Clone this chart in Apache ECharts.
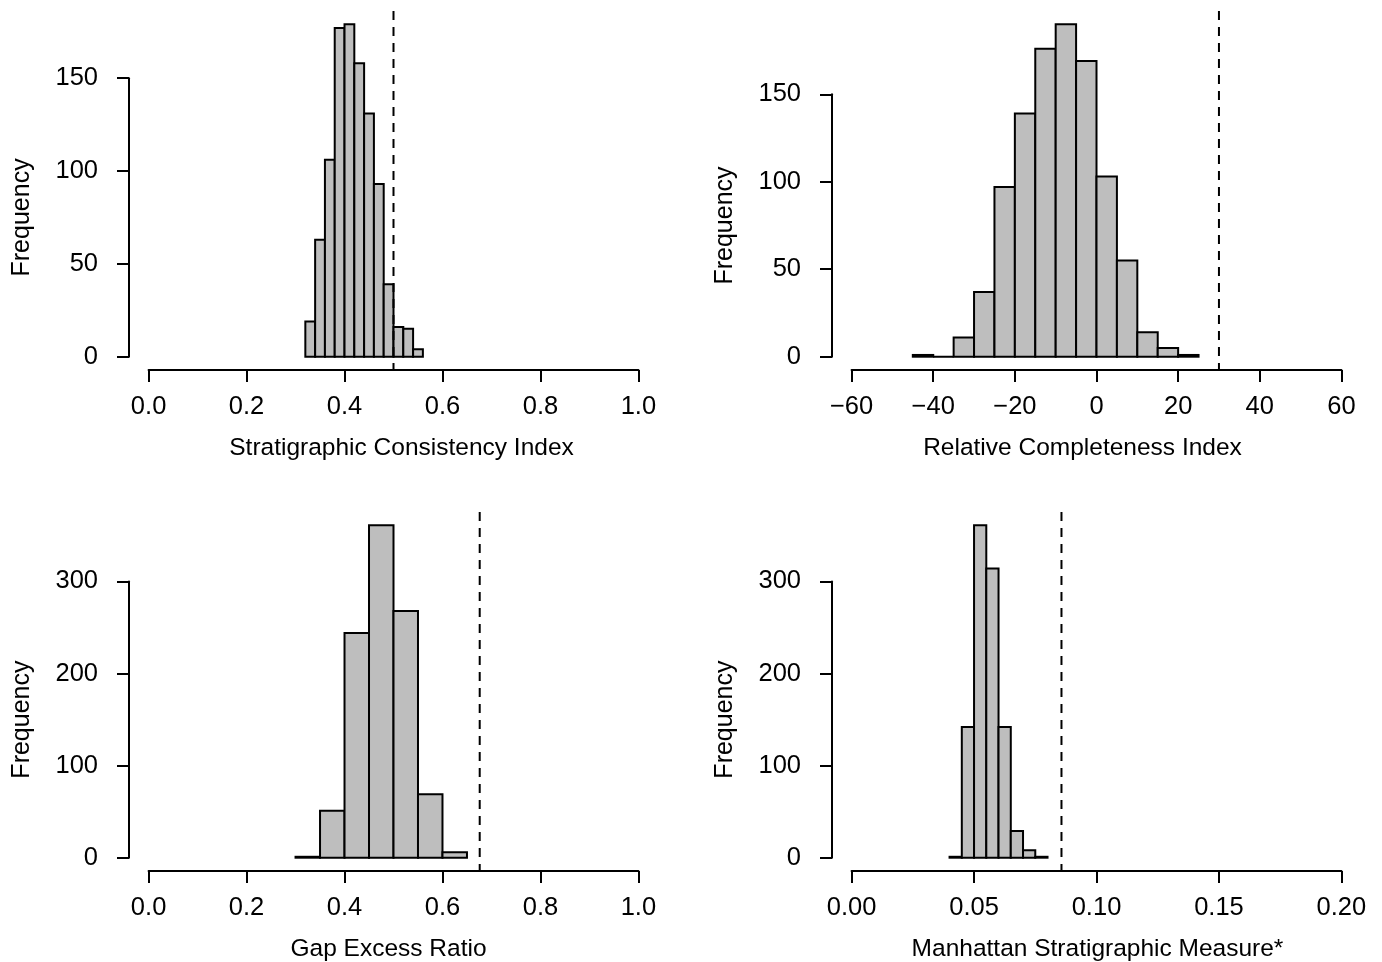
<!DOCTYPE html>
<html>
<head>
<meta charset="utf-8">
<title>Null distributions of stratigraphic congruence metrics</title>
<script src="https://cdn.jsdelivr.net/npm/echarts@6/dist/echarts.min.js"></script>
<style>
  html, body { margin: 0; padding: 0; background: #fff; }
  #chart { width: 1382px; height: 962px; }
</style>
</head>
<body>
<div id="chart"></div>
<script>
// Stratigraphic Consistency Index
const sciEdges = [0.32, 0.34, 0.36, 0.38, 0.40, 0.42, 0.44, 0.46, 0.48, 0.50, 0.52, 0.54, 0.56]
const sciCounts = [19, 63, 106, 177, 179, 158, 131, 93, 39, 16, 15, 4]
const sciObserved = 0.5
const sciXLabels = ['0.0', '0.2', '0.4', '0.6', '0.8', '1.0']
const sciYLabels = ['0', '50', '100', '150']

// Relative Completeness Index
const rciEdges = [-45, -40, -35, -30, -25, -20, -15, -10, -5, 0, 5, 10, 15, 20, 25]
const rciCounts = [1, 0, 11, 37, 97, 139, 176, 190, 169, 103, 55, 14, 5, 1]
const rciObserved = 30
const rciXLabels = ['\u221260', '\u221240', '\u221220', '0', '20', '40', '60']
const rciYLabels = ['0', '50', '100', '150']

// Gap Excess Ratio
const gerEdges = [0.30, 0.35, 0.40, 0.45, 0.50, 0.55, 0.60, 0.65]
const gerCounts = [1, 51, 244, 361, 268, 69, 6]
const gerObserved = 0.676
const gerXLabels = ['0.0', '0.2', '0.4', '0.6', '0.8', '1.0']
const gerYLabels = ['0', '100', '200', '300']

// Manhattan Stratigraphic Measure*
const msmEdges = [0.040, 0.045, 0.050, 0.055, 0.060, 0.065, 0.070, 0.075, 0.080]
const msmCounts = [1, 142, 361, 314, 142, 29, 8, 1]
const msmObserved = 0.0857
const msmXLabels = ['0.00', '0.05', '0.10', '0.15', '0.20']
const msmYLabels = ['0', '100', '200', '300']

const font = '"Liberation Sans", Arial, Helvetica, sans-serif'
// plot region of each panel (R style, axes sit 4% outside the data range)
const regionW = 529
const regionH = 359
const padX = regionW * 0.04 / 1.08
const padY = regionH * 0.04 / 1.08

const panels = [
  { title: 'Stratigraphic Consistency Index', edges: sciEdges, counts: sciCounts, ref: sciObserved, xLabels: sciXLabels, yLabels: sciYLabels, at: [129, 11], shift: 8 },
  { title: 'Relative Completeness Index', edges: rciEdges, counts: rciCounts, ref: rciObserved, xLabels: rciXLabels, yLabels: rciYLabels, at: [832, 11], shift: -14 },
  { title: 'Gap Excess Ratio', edges: gerEdges, counts: gerCounts, ref: gerObserved, xLabels: gerXLabels, yLabels: gerYLabels, at: [129, 512], shift: -5 },
  { title: 'Manhattan Stratigraphic Measure*', edges: msmEdges, counts: msmCounts, ref: msmObserved, xLabels: msmXLabels, yLabels: msmYLabels, at: [832, 512], shift: 1 }
]

const num = s => Number(String(s).replace('\u2212', '-'))

function histBar(params, api) {
  const lo = api.coord([api.value(0), 0])
  const hi = api.coord([api.value(1), api.value(2)])
  return {
    type: 'rect',
    shape: { x: lo[0], y: hi[1], width: hi[0] - lo[0], height: lo[1] - hi[1] },
    style: { fill: '#bebebe', stroke: '#000', lineWidth: 2 }
  }
}

function refLine(params, api) {
  const top = api.coord([api.value(0), api.value(2)])
  const bottom = api.coord([api.value(0), api.value(1)])
  return {
    type: 'line',
    shape: { x1: top[0], y1: top[1], x2: bottom[0], y2: bottom[1] },
    style: { stroke: '#000', lineWidth: 2, lineDash: [9, 7] }
  }
}

const axisCommon = {
  type: 'value',
  axisLine: { show: true, onZero: false, lineStyle: { color: '#000', width: 2 } },
  axisTick: { show: true, inside: false, length: 12, lineStyle: { color: '#000', width: 2 } },
  splitLine: { show: false },
  nameLocation: 'middle'
}

const option = {
  animation: false,
  backgroundColor: '#fff',
  grid: [],
  xAxis: [],
  yAxis: [],
  series: []
}

panels.forEach((p, i) => {
  const ymax = Math.max(...p.counts)
  const pxPerCount = regionH / (1.08 * ymax)
  const xTicks = p.xLabels.map(num)
  const yTicks = p.yLabels.map(num)
  const yTop = yTicks[yTicks.length - 1]
  const baseline = p.at[1] + regionH - padY
  const gridH = yTop * pxPerCount

  option.grid.push({
    left: p.at[0] + padX,
    top: baseline - gridH,
    width: regionW - 2 * padX,
    height: gridH,
    containLabel: false,
    outerBoundsMode: 'none'
  })

  option.xAxis.push(Object.assign({}, axisCommon, {
    gridIndex: i,
    position: 'bottom',
    offset: padY,
    min: xTicks[0],
    max: xTicks[xTicks.length - 1],
    interval: xTicks[1] - xTicks[0],
    name: p.title,
    nameGap: 66,
    nameTextStyle: {
      color: '#000', fontSize: 24.5, fontFamily: font,
      padding: p.shift > 0 ? [0, 0, 0, 2 * p.shift] : [0, -2 * p.shift, 0, 0]
    },
    axisLabel: {
      color: '#000', fontSize: 25.5, fontFamily: font, margin: 24,
      formatter: v => {
        const k = xTicks.findIndex(t => Math.abs(t - v) < 1e-9)
        return k >= 0 ? p.xLabels[k] : ''
      }
    }
  }))

  option.yAxis.push(Object.assign({}, axisCommon, {
    gridIndex: i,
    position: 'left',
    offset: padX,
    min: 0,
    max: yTop,
    interval: yTicks[1] - yTicks[0],
    name: 'Frequency',
    nameRotate: 90,
    nameGap: 94,
    nameTextStyle: { color: '#000', fontSize: 25, fontFamily: font },
    axisLabel: { color: '#000', fontSize: 25.5, fontFamily: font, margin: 31 }
  }))

  const bins = p.counts.map((c, k) => [p.edges[k], p.edges[k + 1], c])
  option.series.push({
    type: 'custom',
    xAxisIndex: i,
    yAxisIndex: i,
    clip: false,
    silent: true,
    encode: { x: [0, 1], y: 2 },
    data: bins,
    renderItem: histBar
  })
  option.series.push({
    type: 'custom',
    xAxisIndex: i,
    yAxisIndex: i,
    clip: false,
    silent: true,
    z: 3,
    encode: { x: 0, y: [1, 2] },
    data: [[p.ref, -0.04 * ymax, 1.04 * ymax]],
    renderItem: refLine
  })
})

const myChart = echarts.init(document.getElementById('chart'), null, { renderer: 'canvas' })
myChart.setOption(option)
</script>
</body>
</html>
